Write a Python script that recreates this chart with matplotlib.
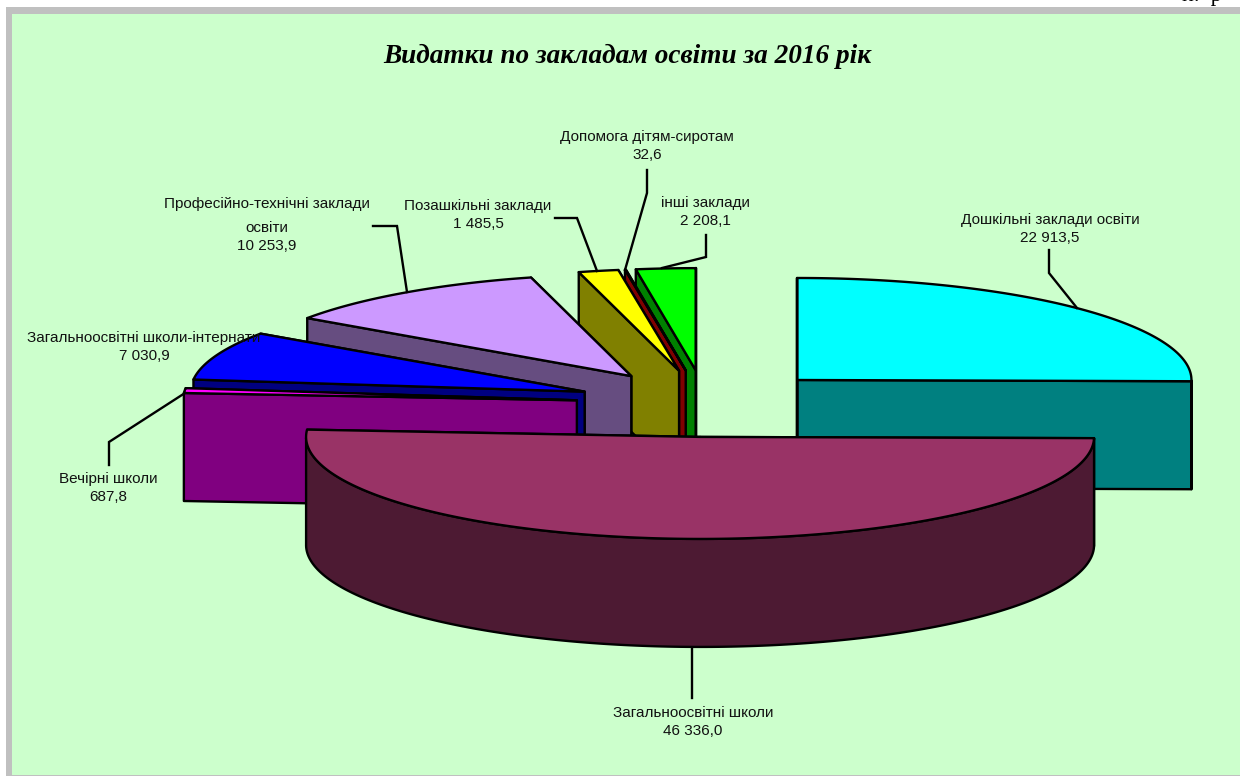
import numpy as np
import matplotlib
matplotlib.use("Agg")
import matplotlib.pyplot as plt
from matplotlib.patches import Polygon, Rectangle

title = "Видатки по закладам освіти за 2016 рік"
# slices in chart order, clockwise from 12 o'clock
names = ["Дошкільні заклади освіти", "Загальноосвітні школи", "Вечірні школи",
         "Загальноосвітні школи-інтернати", "Професійно-технічні заклади\nосвіти",
         "Позашкільні заклади", "Допомога дітям-сиротам", "інші заклади"]
values = [22913.5, 46336.0, 687.8, 7030.9, 10253.9, 1485.5, 32.6, 2208.1]
top_colors = ["#00FFFF", "#993366", "#FF00FF", "#0000FF", "#CC99FF", "#FFFF00", "#C00000", "#00FF00"]
side_colors = ["#008080", "#4D1A33", "#800080", "#000080", "#664D80", "#808000", "#800000", "#008000"]
label_pos = [(1050, 229), (693, 722), (108, 488), (144, 347), (267, 237), (478, 215), (647, 146), (705, 212)]
leaders = [[(1049, 250), (1049, 273), (1077, 308)],
           [(692, 648), (692, 698)],
           [(109, 465), (109, 442), (185, 393)],
           [],
           [(373, 226), (397, 226), (407, 292)],
           [(555, 218), (577, 218), (597, 271)],
           [(647, 170), (647, 193), (625, 270)],
           [(706, 235), (706, 257), (662, 268)]]

# pie geometry in pixels
cx, cy = 705.5, 403.5
rx, ry = 394, 102
depth = 108
explode = 0.328
lw = 1.7


def point(x0, y0, a):
    return x0 + rx * np.sin(a), y0 - ry * np.cos(a)


def fmt(v):
    return f"{v:,.1f}".replace(",", " ").replace(".", ",")


fig = plt.figure(figsize=(12.4, 7.76), dpi=100, facecolor="white")
ax = fig.add_axes([0, 0, 1, 1])
ax.set_xlim(0, 1240)
ax.set_ylim(776, 0)
ax.axis("off")

# frame
ax.add_patch(Rectangle((6, 7), 1234, 769, fc="#C0C0C0", ec="none"))
ax.add_patch(Rectangle((12, 14), 1228, 761, fc="#CCFFCC", ec="none"))
ax.text(1182, 1, "н.  р", family="Liberation Serif", fontsize=16, ha="left", va="baseline", clip_on=True)

total = sum(values)
ends = np.cumsum(values) / total * 2 * np.pi
starts = ends - np.array(values) / total * 2 * np.pi

# back slices first, from the right side to the left, the big front ones last
order = [7, 6, 5, 4, 3, 2, 0, 1]
for i in order:
    a0, a1 = starts[i], ends[i]
    mid = (a0 + a1) / 2
    x0 = cx + explode * rx * np.sin(mid)
    y0 = cy - explode * ry * np.cos(mid)
    t = np.linspace(a0, a1, 200)
    xs, ys = point(x0, y0, t)
    style = dict(ec="black", lw=lw, joinstyle="round")

    # cut walls
    for a in (a1, a0):
        ex, ey = point(x0, y0, a)
        wall = [(x0, y0), (ex, ey), (ex, ey + depth), (x0, y0 + depth)]
        ax.add_patch(Polygon(wall, fc=side_colors[i], **style))

    # outer rim, only the front half shows
    front = np.cos(t) <= 0
    if front.any():
        fx, fy = xs[front], ys[front]
        rim = np.r_[np.c_[fx, fy], np.c_[fx, fy + depth][::-1]]
        ax.add_patch(Polygon(rim, fc=side_colors[i], **style))

    top = np.r_[[(x0, y0)], np.c_[xs, ys]]
    ax.add_patch(Polygon(top, fc=top_colors[i], **style))

# leader lines and labels
font = dict(ha="center", va="center", ma="center", family="Liberation Sans",
            fontsize=11, color="#111111", linespacing=1.3)
for i in range(len(values)):
    if leaders[i]:
        ax.plot(*zip(*leaders[i]), color="black", lw=lw, solid_joinstyle="miter")
    x, y = label_pos[i]
    name = names[i]
    if "\n" in name:
        # the wrapped first line sits further up in the reference
        first, name = name.split("\n")
        ax.text(x, y - 33, first, **font)
    ax.text(x, y, name + "\n" + fmt(values[i]), **font)

ax.text(627, 56, title, ha="center", va="center", family="Liberation Serif",
        fontsize=19.6, fontweight="bold", fontstyle="italic")

fig.savefig("out.png", dpi=100)
